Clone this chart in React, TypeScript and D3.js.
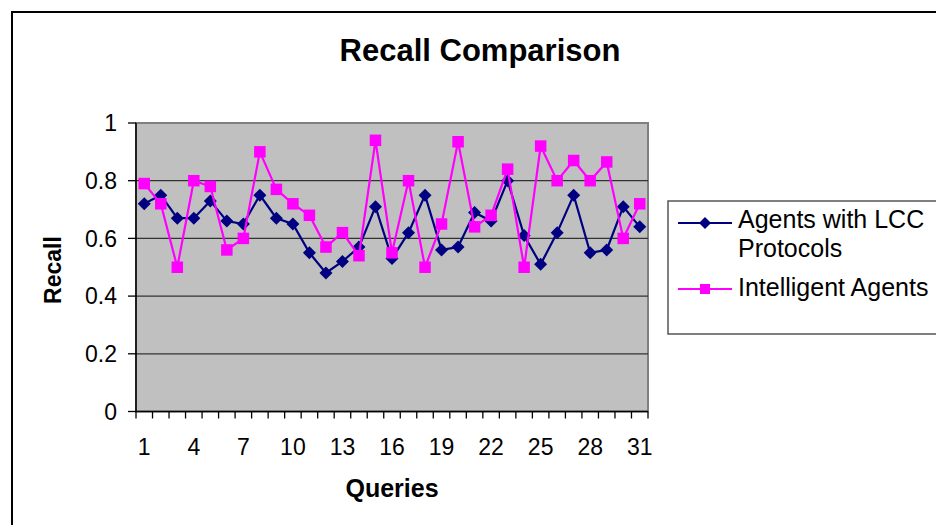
import React from "react";
import * as d3 from "d3";

const queries = ["1","2","3","4","5","6","7","8","9","10","11","12","13","14","15","16","17","18","19","20","21","22","23","24","25","26","27","28","29","30","31"];
const lccValues = [0.72,0.75,0.67,0.67,0.73,0.66,0.65,0.75,0.67,0.65,0.55,0.48,0.52,0.57,0.71,0.53,0.62,0.75,0.56,0.57,0.69,0.66,0.80,0.61,0.51,0.62,0.75,0.55,0.56,0.71,0.64];
const intelligentValues = [0.79,0.72,0.50,0.80,0.78,0.56,0.60,0.90,0.77,0.72,0.68,0.57,0.62,0.54,0.94,0.55,0.80,0.50,0.65,0.935,0.64,0.68,0.84,0.50,0.92,0.80,0.87,0.80,0.865,0.60,0.72];
const yTicks = [0, 0.2, 0.4, 0.6, 0.8, 1];
const xLabelEvery = 3;

const W = 936, H = 525;
const PL = 136, PR = 648, PT = 123, PB = 411.5;
const FONT = "'Liberation Sans', Arial, Helvetica, sans-serif";
const BLUE = "#000080";
const PINK = "#FF00FF";

export default function App() {
  const x = d3.scaleBand<string>().domain(queries).range([PL, PR]).padding(0);
  const bw = x.bandwidth();
  const cx = (q: string) => (x(q) as number) + bw / 2;
  const y = d3.scaleLinear().domain([0, 1]).range([PB, PT]);

  const line = d3.line<number>().x((_, i) => cx(queries[i])).y((d) => y(d));

  const diamond = (px: number, py: number, r: number) =>
    `M${px},${py - r}L${px + r},${py}L${px},${py + r}L${px - r},${py}Z`;

  const boundaries = [...queries.map((q) => x(q) as number), PR];

  return (
    <svg width={W} height={H} style={{ position: "absolute", left: 0, top: 0 }} fontFamily={FONT}>
      <rect x={0} y={0} width={W} height={H} fill="#fff" />
      <rect x={12} y={12} width={W + 20} height={H + 20} fill="none" stroke="#000" strokeWidth={2} />

      <text x={480} y={61} textAnchor="middle" fontSize={31} fontWeight="bold">Recall Comparison</text>

      {/* plot area */}
      <rect x={PL} y={PT} width={PR - PL} height={PB - PT} fill="#C0C0C0" stroke="#808080" strokeWidth={2} />
      {yTicks.filter((t) => t > 0 && t < 1).map((t) => (
        <line key={t} x1={PL} x2={PR} y1={y(t)} y2={y(t)} stroke="#333" strokeWidth={1.3} />
      ))}

      {/* axes */}
      <line x1={PL} x2={PL} y1={PT} y2={PB} stroke="#000" strokeWidth={1.5} />
      <line x1={PL} x2={PR} y1={PB} y2={PB} stroke="#000" strokeWidth={1.5} />
      {yTicks.map((t) => (
        <g key={t}>
          <line x1={PL - 8} x2={PL} y1={y(t)} y2={y(t)} stroke="#000" strokeWidth={1.3} />
          <text x={117} y={y(t)} dy="0.36em" textAnchor="end" fontSize={23}>{String(t)}</text>
        </g>
      ))}
      {boundaries.map((b, i) => (
        <line key={i} x1={b} x2={b} y1={PB} y2={PB + 7} stroke="#000" strokeWidth={1.3} />
      ))}
      {queries.map((q, i) => i % xLabelEvery === 0 ? (
        <text key={q} x={cx(q)} y={455} textAnchor="middle" fontSize={23}>{q}</text>
      ) : null)}

      <text x={392} y={497} textAnchor="middle" fontSize={25} fontWeight="bold">Queries</text>
      <text transform={`translate(61,270) rotate(-90)`} textAnchor="middle" fontSize={23} fontWeight="bold">Recall</text>

      {/* series */}
      <path d={line(lccValues) || ""} fill="none" stroke={BLUE} strokeWidth={2.2} />
      {lccValues.map((v, i) => (
        <path key={i} d={diamond(cx(queries[i]), y(v), 6.5)} fill={BLUE} />
      ))}
      <path d={line(intelligentValues) || ""} fill="none" stroke={PINK} strokeWidth={2.2} />
      {intelligentValues.map((v, i) => (
        <rect key={i} x={cx(queries[i]) - 5.75} y={y(v) - 5.75} width={11.5} height={11.5} fill={PINK} />
      ))}

      {/* legend */}
      <rect x={668} y={201} width={300} height={133} fill="#fff" stroke="#555" strokeWidth={1.5} />
      <line x1={678} x2={732} y1={223} y2={223} stroke={BLUE} strokeWidth={2} />
      <path d={diamond(705, 223, 6)} fill={BLUE} />
      <text x={738} y={228} fontSize={25}>Agents with LCC</text>
      <text x={738} y={257} fontSize={25}>Protocols</text>
      <line x1={678} x2={732} y1={289} y2={289} stroke={PINK} strokeWidth={2} />
      <rect x={700} y={284} width={10} height={10} fill={PINK} />
      <text x={738} y={296} fontSize={25}>Intelligent Agents</text>
    </svg>
  );
}
